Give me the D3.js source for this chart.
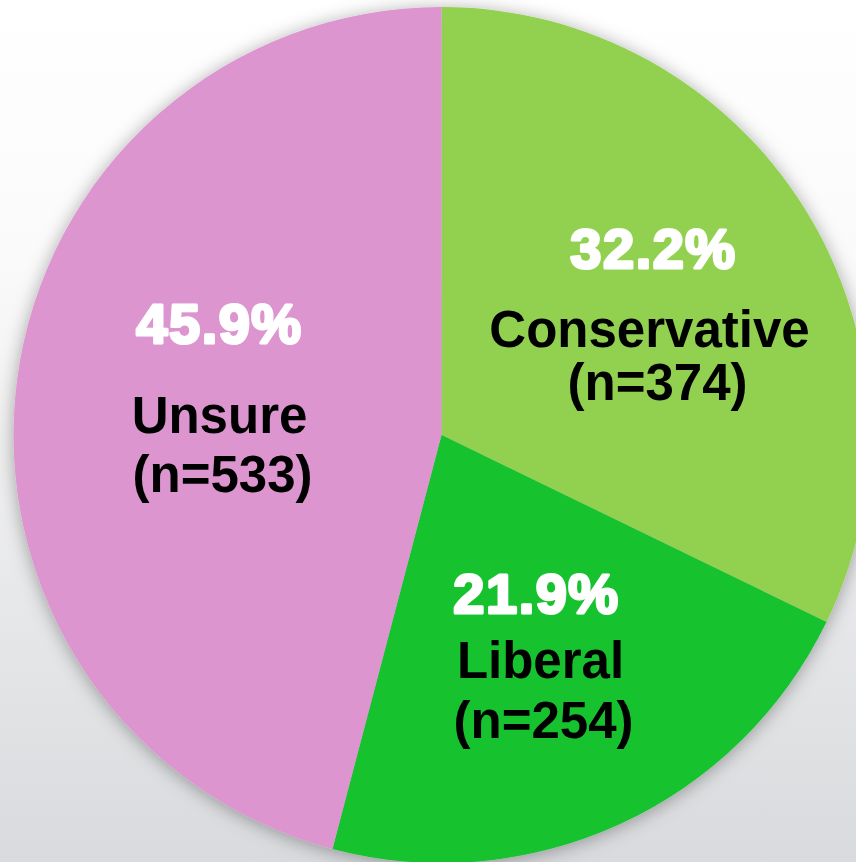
<!DOCTYPE html>
<html>
<head>
<meta charset="utf-8">
<script src="https://cdn.jsdelivr.net/npm/d3@7"></script>
<style>
  html, body { margin: 0; padding: 0; }
  body { width: 856px; height: 862px; overflow: hidden; }
</style>
</head>
<body>
<svg id="chart" width="856" height="862"></svg>
<script>
// ---- data ----
const categories = ["Conservative", "Liberal", "Unsure"];
const percents = [32.2, 21.9, 45.9];
const counts = [374, 254, 533];
const colors = ["#92D050", "#12C32F", "#DD95D0"];

// ---- layout ----
const W = 856, H = 862;
const cx = 441.5, cy = 435, R = 428;
// label anchor points (relative to pie centre)
const labelLayout = {
  Conservative: { px: 212, x: 208, nx: 216, pct: -167, name: -88, n: -35 },
  Liberal:      { px: 95,  x: 99,  nx: 102, pct: 178,  name: 243, n: 303 },
  Unsure:       { px: -222, x: -222, nx: -219, pct: -92, name: -2, n: 57 }
};

const svg = d3.select("#chart");
const defs = svg.append("defs");

const bg = defs.append("linearGradient").attr("id", "bg")
  .attr("x1", 0).attr("y1", 0).attr("x2", 0).attr("y2", 1);
bg.append("stop").attr("offset", "0%").attr("stop-color", "#ffffff");
bg.append("stop").attr("offset", "30%").attr("stop-color", "#fafafa");
bg.append("stop").attr("offset", "100%").attr("stop-color", "#d9dadd");

const f = defs.append("filter").attr("id", "shadow")
  .attr("x", "-20%").attr("y", "-20%").attr("width", "140%").attr("height", "140%");
f.append("feDropShadow").attr("dx", 0).attr("dy", 2)
  .attr("stdDeviation", 9).attr("flood-color", "#000").attr("flood-opacity", 0.34);

svg.append("rect").attr("width", W).attr("height", H).attr("fill", "url(#bg)");

const data = categories.map((c, i) => ({ cat: c, pct: percents[i], n: counts[i], color: colors[i] }));

const pie = d3.pie().value(d => d.pct).sort(null);
const arc = d3.arc().innerRadius(0).outerRadius(R);

const g = svg.append("g").attr("transform", `translate(${cx},${cy})`);

g.append("g").attr("filter", "url(#shadow)")
  .selectAll("path").data(pie(data)).join("path")
  .attr("d", arc)
  .attr("fill", d => d.data.color);

const labels = g.append("g")
  .attr("font-family", "'Liberation Sans', Arial, sans-serif")
  .attr("font-weight", "bold")
  .attr("text-anchor", "middle");

data.forEach(d => {
  const L = labelLayout[d.cat];
  labels.append("text")
    .attr("x", L.px).attr("y", L.pct)
    .attr("font-size", 56)
    .attr("letter-spacing", 1.5)
    .attr("fill", "#ffffff")
    .attr("stroke", "#ffffff").attr("stroke-width", 3).attr("stroke-linejoin", "round")
    .text(d3.format(".1f")(d.pct) + "%");
  labels.append("text")
    .attr("x", L.x).attr("y", L.name)
    .attr("font-size", 51)
    .attr("fill", "#000000")
    .text(d.cat);
  labels.append("text")
    .attr("x", L.nx).attr("y", L.n)
    .attr("font-size", 51)
    .attr("fill", "#000000")
    .text(`(n=${d.n})`);
});
</script>
</body>
</html>
